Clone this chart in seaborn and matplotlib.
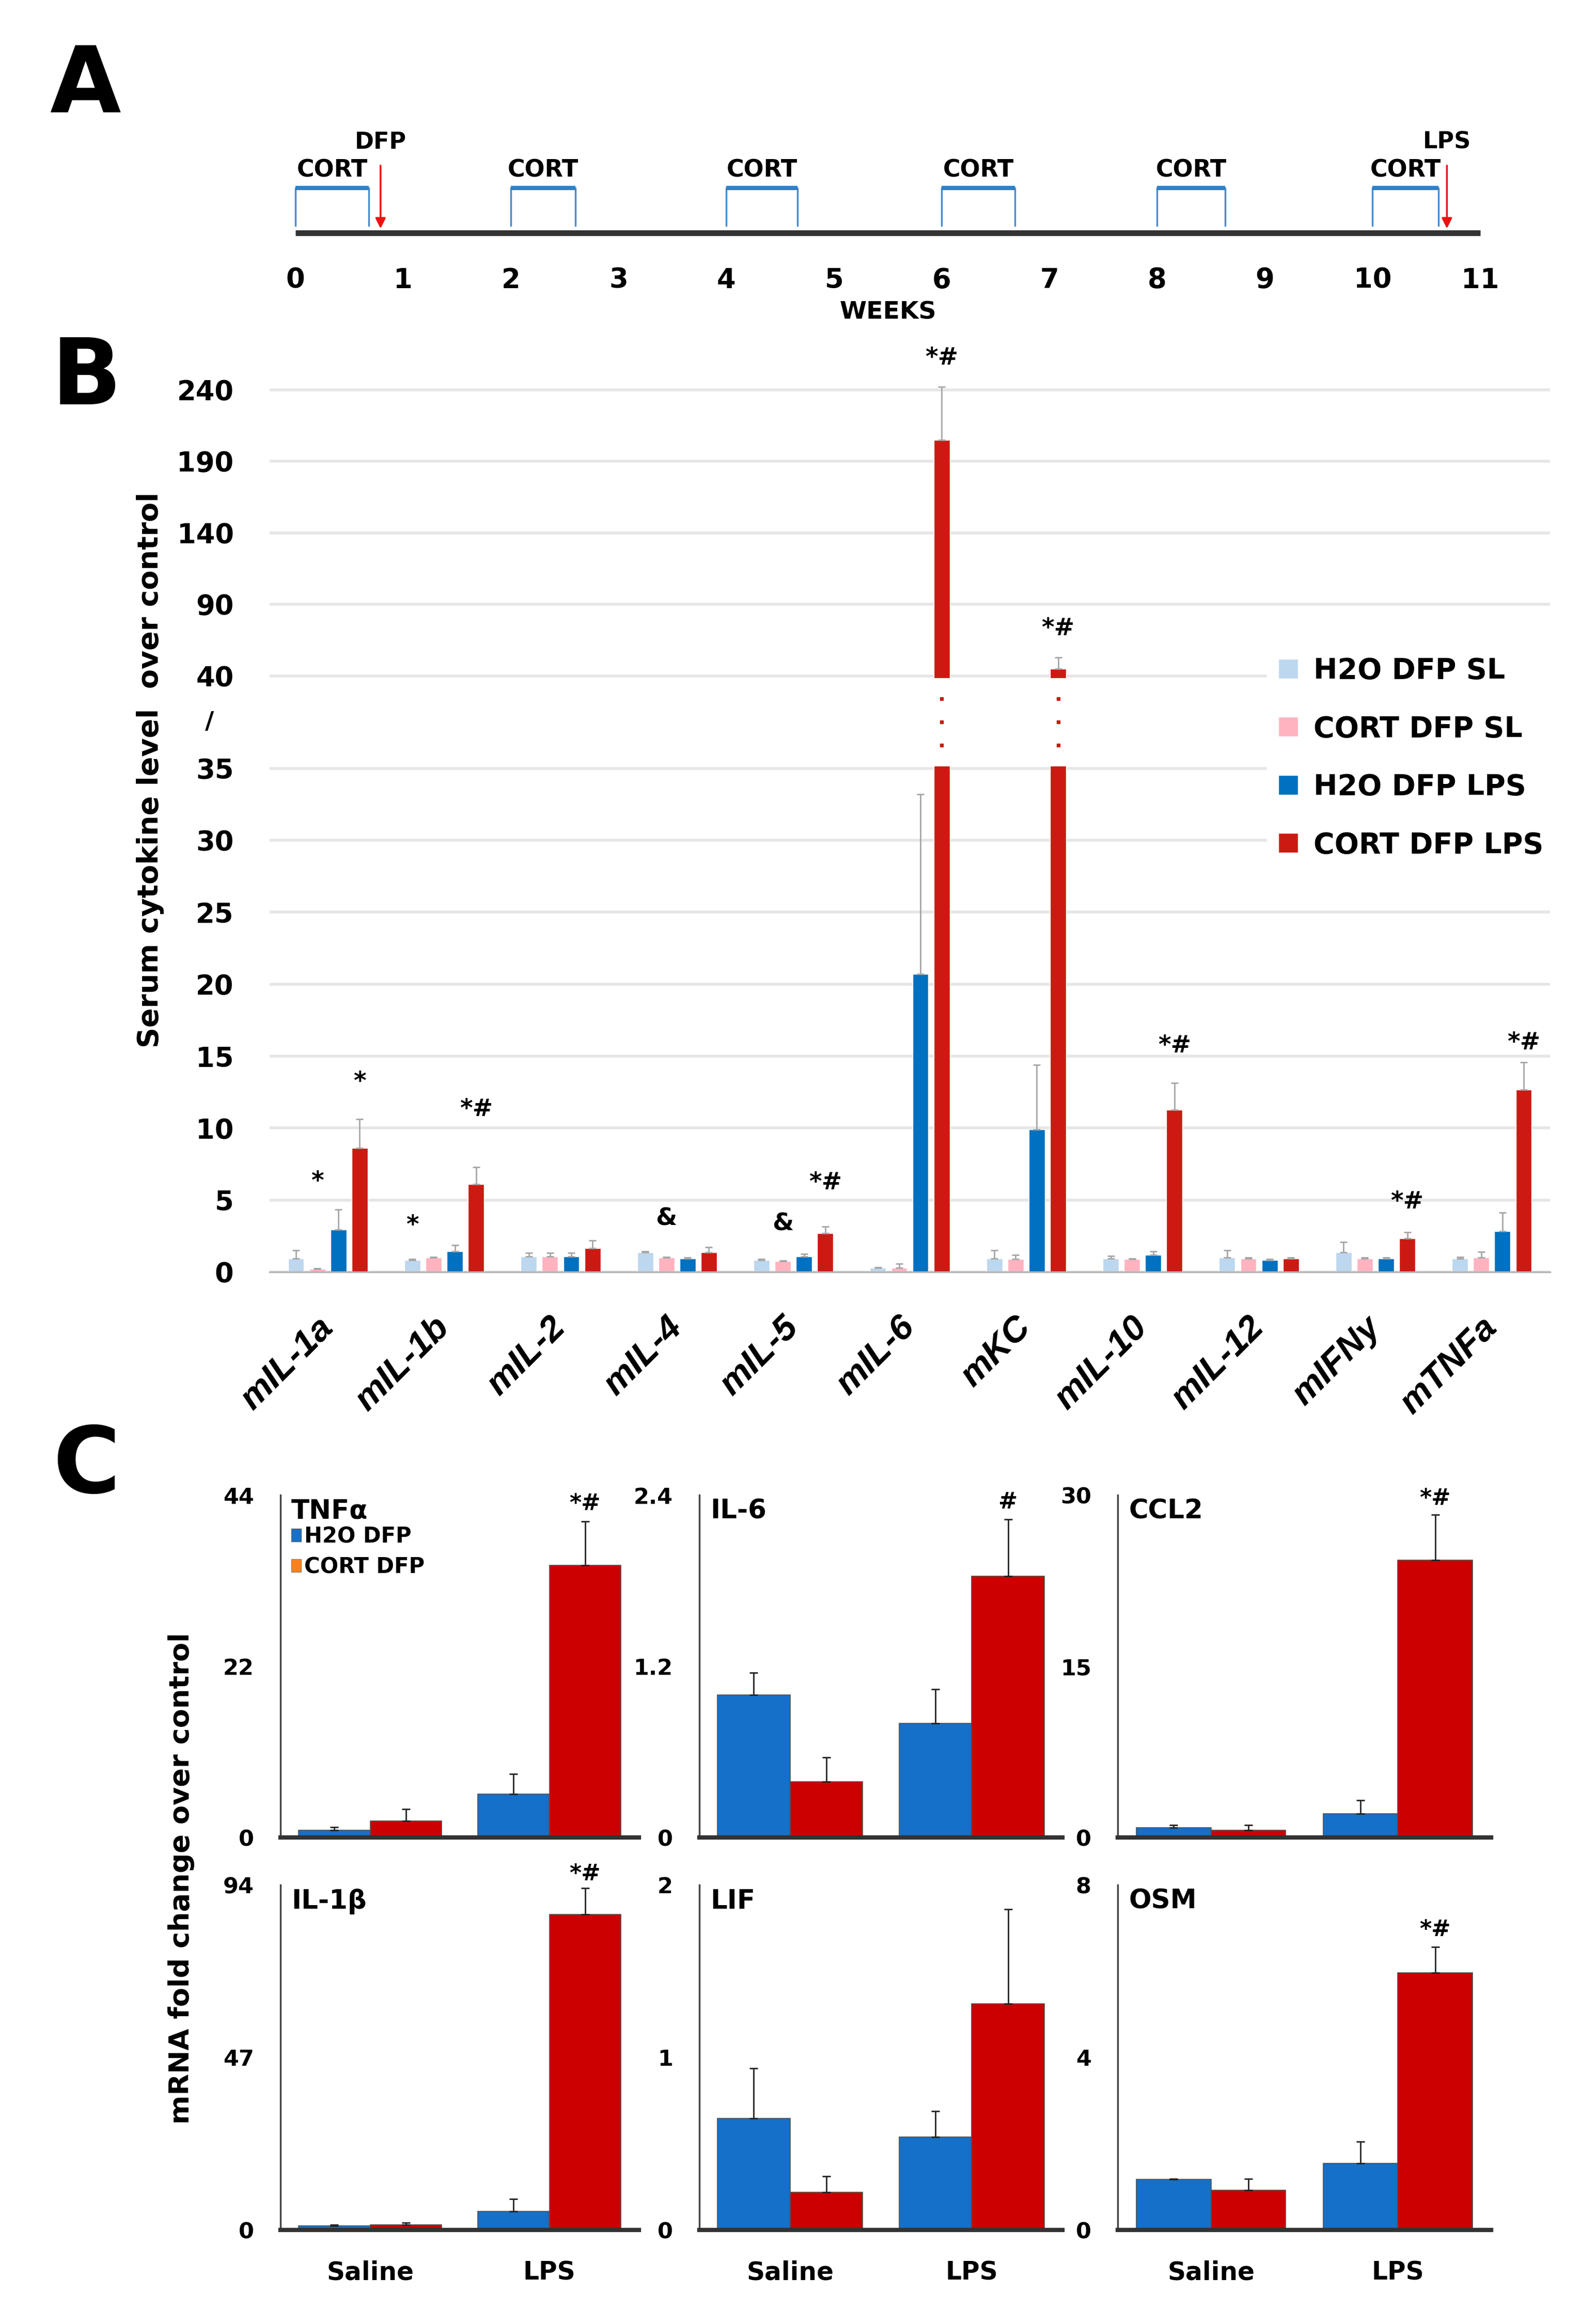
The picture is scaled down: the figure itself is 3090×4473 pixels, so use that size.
import numpy as np
import pandas as pd
import matplotlib
matplotlib.use('Agg')
import matplotlib.pyplot as plt
import seaborn as sns
from matplotlib.patches import Patch

# ------------------------------ data ------------------------------
# A: treatment schedule (weeks)
weeks = list(range(12))
cort_start = [0, 2, 4, 6, 8, 10]
cort_end = [0.68, 2.6, 4.66, 6.68, 8.63, 10.61]
dfp_week = 0.79
lps_week = 10.69

# B: serum cytokine level over control
cytokines = ['mIL-1a', 'mIL-1b', 'mIL-2', 'mIL-4', 'mIL-5', 'mIL-6',
             'mKC', 'mIL-10', 'mIL-12', 'mIFNy', 'mTNFa']
groups_b = ['H2O DFP SL', 'CORT DFP SL', 'H2O DFP LPS', 'CORT DFP LPS']
h2o_sl = [0.95, 0.83, 1.07, 1.38, 0.83, 0.27, 0.95, 0.95, 1.0, 1.38, 0.95]
h2o_sl_err = [0.55, 0.05, 0.25, 0.07, 0.05, 0.05, 0.55, 0.15, 0.5, 0.7, 0.1]
cort_sl = [0.2, 1.0, 1.07, 1.0, 0.75, 0.3, 0.9, 0.9, 0.95, 0.95, 1.0]
cort_sl_err = [0.05, 0.05, 0.25, 0.05, 0.05, 0.27, 0.3, 0.05, 0.05, 0.05, 0.4]
h2o_lps = [2.96, 1.45, 1.07, 0.95, 1.07, 20.7, 9.9, 1.2, 0.83, 0.95, 2.84]
h2o_lps_err = [1.4, 0.4, 0.25, 0.05, 0.2, 12.5, 4.5, 0.25, 0.05, 0.05, 1.3]
cort_lps = [8.63, 6.1, 1.65, 1.38, 2.7, 205, 45, 11.27, 0.95, 2.33, 12.67]
cort_lps_err = [2.0, 1.2, 0.55, 0.35, 0.45, 37, 8, 1.85, 0.05, 0.43, 1.9]
b_ticks = [0, 5, 10, 15, 20, 25, 30, 35, 40, 90, 140, 190, 240]
# significance marks: (cytokine, group, mark, y)
b_marks = [('mIL-1a', 'CORT DFP SL', '*', 6.25), ('mIL-1a', 'CORT DFP LPS', '*', 13.2),
           ('mIL-1b', 'H2O DFP SL', '*', 3.2), ('mIL-1b', 'CORT DFP LPS', '*#', 11.3),
           ('mIL-4', 'CORT DFP SL', '&', 3.7), ('mIL-5', 'CORT DFP SL', '&', 3.35),
           ('mIL-5', 'CORT DFP LPS', '*#', 6.2), ('mIL-6', 'CORT DFP LPS', '*#', 262),
           ('mKC', 'CORT DFP LPS', '*#', 73), ('mIL-10', 'CORT DFP LPS', '*#', 15.7),
           ('mIFNy', 'CORT DFP LPS', '*#', 4.85), ('mTNFa', 'CORT DFP LPS', '*#', 15.9)]

# C: mRNA fold change over control
conditions = ['Saline', 'LPS']
groups_c = ['H2O DFP', 'CORT DFP']
tnfa_h2o, tnfa_h2o_err = [0.93, 5.57], [0.37, 2.6]
tnfa_cort, tnfa_cort_err = [2.15, 35.0], [1.5, 5.6]
il6_h2o, il6_h2o_err = [1.0, 0.80], [0.155, 0.24]
il6_cort, il6_cort_err = [0.39, 1.83], [0.17, 0.40]
ccl2_h2o, ccl2_h2o_err = [0.86, 2.08], [0.24, 1.2]
ccl2_cort, ccl2_cort_err = [0.65, 24.3], [0.45, 4.0]
il1b_h2o, il1b_h2o_err = [1.07, 5.0], [0.33, 3.4]
il1b_cort, il1b_cort_err = [1.43, 86.0], [0.6, 7.1]
lif_h2o, lif_h2o_err = [0.647, 0.54], [0.29, 0.15]
lif_cort, lif_cort_err = [0.22, 1.31], [0.09, 0.55]
osm_h2o, osm_h2o_err = [1.17, 1.55], [0.02, 0.5]
osm_cort, osm_cort_err = [0.92, 5.96], [0.26, 0.6]
tnfa_ticks = [0, 22, 44]
il6_ticks = [0, 1.2, 2.4]
ccl2_ticks = [0, 15, 30]
il1b_ticks = [0, 47, 94]
lif_ticks = [0, 1, 2]
osm_ticks = [0, 4, 8]
c_marks = {'TNFα': ('*#', 42.9), 'IL-6': ('#', 2.35), 'CCL2': ('*#', 29.7),
           'IL-1β': ('*#', 97), 'OSM': ('*#', 6.96)}

colors_b = ['#bdd7ee', '#ffb3c0', '#0070c0', '#cc1a12']
colors_c = ['#1470c8', '#cc0000']

# ------------------------------ setup ------------------------------
sns.set_theme(style='white')
plt.rcParams['font.family'] = ['DejaVu Sans']
plt.rcParams['font.weight'] = 'bold'
plt.rcParams['axes.labelweight'] = 'bold'
for key in ['text.color', 'axes.labelcolor', 'xtick.color', 'ytick.color']:
    plt.rcParams[key] = 'black'

W, H = 3090, 4473
fig = plt.figure(figsize=(W / 100, H / 100), dpi=100)
fig.patch.set_facecolor('white')


def px_axes(x0, x1, y0, y1):
    return fig.add_axes([x0 / W, 1 - y1 / H, (x1 - x0) / W, (y1 - y0) / H])


def add_errors(ax, errs, color, lw, cap):
    for bar, err in zip(ax.patches, errs):
        cx = bar.get_x() + bar.get_width() / 2
        ax.errorbar(cx, bar.get_height(), yerr=[[0], [err]], fmt='none', ecolor=color,
                    elinewidth=lw, capsize=cap, capthick=lw, zorder=3)


# panel letters
for letter, xp, yp in [('A', 96, 219), ('B', 100, 783), ('C', 102, 2890)]:
    fig.text(xp / W, 1 - yp / H, letter, fontsize=128, fontweight='bold', va='baseline')

# ------------------------------ A: schedule ------------------------------
ax_a = px_axes(572, 2866, 230, 500)
ax_a.set_xlim(weeks[0], weeks[-1])
ax_a.set_ylim(-0.56, 2.54)
ax_a.plot([weeks[0], weeks[-1]], [0, 0], color='#333333', lw=8, solid_capstyle='butt', clip_on=False)
for s, e in zip(cort_start, cort_end):
    ax_a.plot([s, s, e, e], [0.16, 1, 1, 0.16], color='#4a8ccc', lw=2.5, clip_on=False)
    ax_a.plot([s, e], [1, 1], color='#2f80c6', lw=6, solid_capstyle='butt', clip_on=False)
    ax_a.text((s + e) / 2, 1.39, 'CORT', ha='center', va='center', fontsize=33)
for wk, lab in [(dfp_week, 'DFP'), (lps_week, 'LPS')]:
    ax_a.annotate('', xy=(wk, 0.1), xytext=(wk, 1.5),
                  arrowprops=dict(arrowstyle='-|>', color='#ee1111', lw=2.5,
                                  mutation_scale=30, shrinkA=0, shrinkB=0))
    ax_a.text(wk, 2.02, lab, ha='center', va='center', fontsize=32)
ax_a.set_xticks(weeks)
ax_a.set_xticklabels([str(w) for w in weeks])
ax_a.set_yticks([])
ax_a.tick_params(axis='x', length=0, pad=12, labelsize=38)
ax_a.set_xlabel('WEEKS', fontsize=34, labelpad=10)
sns.despine(ax=ax_a, left=True, bottom=True)

# ------------------------------ B: serum cytokines ------------------------------
GAP_K = 1.286   # stretch of the 35..40 break
UP_K = 0.0994   # compression above 40


def fwd(y):
    y = np.asarray(y, dtype=float)
    return np.where(y <= 35, y, np.where(y <= 40, 35 + (y - 35) * GAP_K,
                                         35 + 5 * GAP_K + (y - 40) * UP_K))


def inv(t):
    t = np.asarray(t, dtype=float)
    t_up = 35 + 5 * GAP_K
    return np.where(t <= 35, t, np.where(t <= t_up, 35 + (t - 35) / GAP_K,
                                         40 + (t - t_up) / UP_K))


ax_b = px_axes(522, 3001, 644, 2463)
df_b = pd.DataFrame({'cytokine': cytokines * 4,
                     'group': np.repeat(groups_b, len(cytokines)),
                     'value': h2o_sl + cort_sl + h2o_lps + cort_lps})
sns.barplot(data=df_b, x='cytokine', y='value', hue='group', palette=colors_b,
            saturation=1, width=0.73, gap=0.25, errorbar=None, ax=ax_b, zorder=2)
ax_b.set_yscale('function', functions=(fwd, inv))
ax_b.set_ylim(0, 280)
ax_b.set_xlim(-0.5, len(cytokines) - 0.5)
add_errors(ax_b, h2o_sl_err + cort_sl_err + h2o_lps_err + cort_lps_err, '#a6a6a6', 2, 5)

bars_b = list(ax_b.patches)
red_b = colors_b[3]
for bar in bars_b:
    if bar.get_height() > 40:
        cx = bar.get_x() + bar.get_width() / 2
        ax_b.plot([cx] * 3, np.linspace(35, 40, 5)[1:-1], 's', color=red_b, ms=5, zorder=4)
ax_b.axhspan(35.12, 39.88, color='white', zorder=2.5, lw=0)

for cyt, grp, mark, yv in b_marks:
    bar = bars_b[groups_b.index(grp) * len(cytokines) + cytokines.index(cyt)]
    ax_b.text(bar.get_x() + bar.get_width() / 2, yv, mark, ha='center', va='center', fontsize=34)

ax_b.set_yticks(b_ticks)
ax_b.set_yticklabels([str(t) for t in b_ticks])
ax_b.yaxis.grid(True, color='#e6e6e6', lw=4)
ax_b.set_axisbelow(True)
ax_b.text(-0.047, 37.5, '/', transform=ax_b.get_yaxis_transform(), ha='center', va='center', fontsize=34)
ax_b.tick_params(axis='y', length=0, pad=50, labelsize=38)
ax_b.tick_params(axis='x', length=0, pad=70)
ax_b.set_xticks(range(len(cytokines)))
ax_b.set_xticklabels(cytokines, rotation=45, ha='right', va='center', rotation_mode='anchor',
                     fontsize=50, fontstyle='italic', fontfamily='Liberation Sans', fontweight='bold')
ax_b.set_xlabel('')
ax_b.set_ylabel('Serum cytokine level  over control', fontsize=40)
ax_b.yaxis.set_label_coords((318 - 522) / 2479, (2463 - 1491) / 1819)
sns.despine(ax=ax_b, left=True)
ax_b.spines['bottom'].set_color('#b5b5b5')
ax_b.spines['bottom'].set_linewidth(2.5)
sns.move_legend(ax_b, 'center left', bbox_to_anchor=(2425 / W, 1 - 1468 / H),
                bbox_transform=fig.transFigure, title=None, frameon=True, fontsize=40,
                facecolor='white', edgecolor='white', framealpha=1,
                handlelength=0.68, handleheight=0.68, handletextpad=0.55,
                labelspacing=1.05, borderpad=0.4)

# ------------------------------ C: mRNA ------------------------------
c_panels = [('TNFα', tnfa_h2o, tnfa_cort, tnfa_h2o_err, tnfa_cort_err, tnfa_ticks),
            ('IL-6', il6_h2o, il6_cort, il6_h2o_err, il6_cort_err, il6_ticks),
            ('CCL2', ccl2_h2o, ccl2_cort, ccl2_h2o_err, ccl2_cort_err, ccl2_ticks),
            ('IL-1β', il1b_h2o, il1b_cort, il1b_h2o_err, il1b_cort_err, il1b_ticks),
            ('LIF', lif_h2o, lif_cort, lif_h2o_err, lif_cort_err, lif_ticks),
            ('OSM', osm_h2o, osm_cort, osm_h2o_err, osm_cort_err, osm_ticks)]
c_cols = [(543, 1237), (1354, 2057), (2164, 2887)]
c_rows = [(2895, 3558), (3650, 4318)]

for i, (name, h2o, cort, h2o_err, cort_err, ticks) in enumerate(c_panels):
    row, col = divmod(i, 3)
    ax = px_axes(c_cols[col][0], c_cols[col][1], c_rows[row][0], c_rows[row][1])
    df = pd.DataFrame({'condition': conditions * 2,
                       'group': np.repeat(groups_c, len(conditions)),
                       'value': h2o + cort})
    sns.barplot(data=df, x='condition', y='value', hue='group', palette=colors_c,
                saturation=1, width=0.8, errorbar=None, legend=False, ax=ax,
                edgecolor='#505050', linewidth=1.2, zorder=2)
    add_errors(ax, h2o_err + cort_err, '#222222', 2, 6)
    ax.set_xlim(-0.5, len(conditions) - 0.5)
    ax.set_ylim(0, ticks[-1])
    ax.set_yticks(ticks)
    ax.set_yticklabels([str(t) for t in ticks])
    ax.tick_params(axis='y', length=0, pad=37, labelsize=31)
    ax.tick_params(axis='x', length=0, pad=42, labelsize=35)
    if row == 1:
        ax.set_xticks(range(len(conditions)))
        ax.set_xticklabels(conditions)
    else:
        ax.set_xticklabels([])
    ax.set_xlabel('')
    ax.set_ylabel('')
    sns.despine(ax=ax)
    ax.spines['left'].set_color('#444444')
    ax.spines['left'].set_linewidth(2.5)
    ax.spines['bottom'].set_color('#333333')
    ax.spines['bottom'].set_linewidth(6)
    ax.text(0.03, 0.99, name, transform=ax.transAxes, ha='left', va='top', fontsize=37)
    if name in c_marks:
        mark, yv = c_marks[name]
        bar = ax.patches[len(conditions) + 1]
        ax.text(bar.get_x() + bar.get_width() / 2, yv, mark, ha='center', va='center', fontsize=32)
    if name == 'TNFα':
        ax.legend(handles=[Patch(facecolor=colors_c[0], edgecolor='#666666'),
                           Patch(facecolor='#f5821f', edgecolor='#888888')],
                  labels=groups_c, loc='upper left', bbox_to_anchor=(0.03, 0.91),
                  frameon=False, fontsize=30, handlelength=0.45, handleheight=0.55,
                  handletextpad=0.15, labelspacing=0.4, borderpad=0, borderaxespad=0)

fig.text(377 / W, 1 - 3637 / H, 'mRNA fold change over control', rotation=90,
         ha='right', va='center', fontsize=39)

fig.savefig('out.png', dpi=100)
